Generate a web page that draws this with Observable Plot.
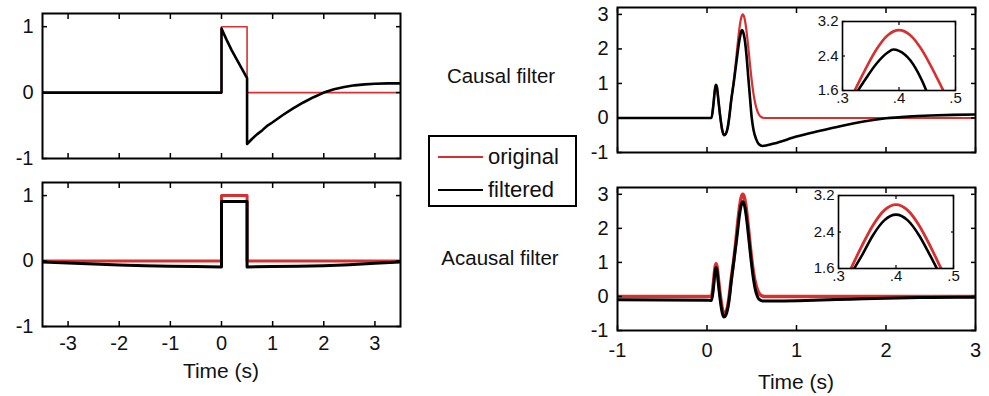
<!DOCTYPE html>
<html><head><meta charset="utf-8">
<script src="https://cdn.jsdelivr.net/npm/d3@7"></script>
<script src="https://cdn.jsdelivr.net/npm/@observablehq/plot@0.6"></script>
<style>
html,body{margin:0;padding:0;background:#fff;overflow:hidden;}
#fig{position:relative;width:989px;height:396px;overflow:hidden;font-family:"Liberation Sans",Arial,sans-serif;color:#111;}
#fig svg{position:absolute;left:0;top:0;}
.lbl{position:absolute;white-space:nowrap;transform:translate(-50%,-50%);line-height:1;}
#legend{position:absolute;left:428px;top:135px;width:149px;height:72px;box-sizing:border-box;border:2px solid #000;background:#fff;}
#legend .sw{position:absolute;left:8px;width:45px;}
#legend .tx{position:absolute;left:58px;font-size:22px;line-height:1;transform:translateY(-50%);}
</style></head><body><div id="fig"></div>
<script>
// ---------- data ----------
// Left panels: square pulse
const stepT        = [-3.5, 0, 0, 0.5, 0.5, 3.5];
const stepOriginal = [0, 0, 1, 1, 0, 0];
const causalStepT  = [-3.5, 0, 0, 0.1, 0.2, 0.3, 0.4, 0.5, 0.5, 0.6, 0.7, 0.8, 0.9, 1.0, 1.2, 1.4, 1.6, 1.8, 2.0, 2.2, 2.4, 2.6, 2.8, 3.0, 3.25, 3.5];
const causalStepV  = [0, 0, 0.97, 0.8, 0.64, 0.5, 0.36, 0.22, -0.78, -0.7, -0.63, -0.57, -0.5, -0.45, -0.34, -0.24, -0.15, -0.07, 0.0, 0.05, 0.085, 0.11, 0.125, 0.135, 0.14, 0.14];
const acausalStepT = [-3.5, -3, -2.5, -2, -1.5, -1, -0.5, 0, 0, 0.5, 0.5, 1, 1.5, 2, 2.5, 3, 3.5];
const acausalStepV = [-0.015, -0.03, -0.045, -0.06, -0.07, -0.08, -0.085, -0.09, 0.91, 0.91, -0.09, -0.085, -0.08, -0.07, -0.055, -0.035, -0.015];
// Right panels: transient waveform
const waveT        = [-1, 0.05, 0.07, 0.09, 0.10, 0.11, 0.13, 0.15, 0.17, 0.19, 0.21, 0.23, 0.25, 0.27, 0.30, 0.32, 0.34, 0.36, 0.38, 0.40, 0.42, 0.44, 0.46, 0.48, 0.50, 0.52, 0.54, 0.56, 0.58, 0.60, 0.64, 3.0];
const waveOriginal = [0, 0, 0.35, 0.85, 0.96, 0.9, 0.45, 0.0, -0.35, -0.5, -0.46, -0.3, 0.05, 0.5, 1.08, 1.56, 2.08, 2.55, 2.88, 3.0, 2.88, 2.55, 2.08, 1.56, 1.08, 0.69, 0.41, 0.22, 0.1, 0.04, 0, 0];
const causalT      = [-1, 0.05, 0.07, 0.09, 0.10, 0.11, 0.13, 0.15, 0.17, 0.19, 0.21, 0.23, 0.25, 0.27, 0.30, 0.32, 0.34, 0.36, 0.38, 0.39, 0.40, 0.42, 0.44, 0.46, 0.48, 0.50, 0.52, 0.55, 0.58, 0.62, 0.75, 1.0, 1.25, 1.5, 1.75, 2.0, 2.25, 2.5, 2.75, 3.0];
const causalV      = [0, 0, 0.35, 0.85, 0.96, 0.9, 0.45, 0.0, -0.35, -0.5, -0.46, -0.3, 0.05, 0.5, 1.05, 1.45, 1.85, 2.22, 2.48, 2.55, 2.52, 2.3, 1.85, 1.22, 0.6, 0.0, -0.35, -0.62, -0.76, -0.81, -0.74, -0.54, -0.38, -0.23, -0.1, -0.01, 0.04, 0.07, 0.09, 0.1];
const acausalT     = [-1, 0.0, 0.05, 0.07, 0.09, 0.10, 0.11, 0.13, 0.15, 0.17, 0.19, 0.21, 0.23, 0.25, 0.27, 0.30, 0.32, 0.34, 0.36, 0.38, 0.40, 0.42, 0.44, 0.46, 0.48, 0.50, 0.52, 0.54, 0.56, 0.58, 0.62, 0.8, 1.2, 1.6, 2.0, 2.5, 3.0];
const acausalV     = [-0.1, -0.11, -0.12, 0.2, 0.72, 0.85, 0.78, 0.3, -0.15, -0.48, -0.6, -0.55, -0.38, -0.05, 0.42, 1.05, 1.45, 1.87, 2.33, 2.66, 2.78, 2.66, 2.33, 1.87, 1.38, 0.9, 0.5, 0.2, 0.02, -0.08, -0.13, -0.13, -0.11, -0.08, -0.05, -0.03, -0.02];
// ticks
const leftXTicks  = [-3, -2, -1, 0, 1, 2, 3];
const leftYTicks  = [-1, 0, 1];
const rightXTicks = [-1, 0, 1, 2, 3];
const rightYTicks = [-1, 0, 1, 2, 3];
const insetXTicks = [0.3, 0.4, 0.5];
const insetYTicks = [1.6, 2.4, 3.2];
// texts
const seriesNames = ["original", "filtered"];
const rowTitles = ["Causal filter", "Acausal filter"];
const xTitle = "Time (s)";

// ---------- drawing ----------
const RED = "#d7302f", BLACK = "#000";
const zip = (T, V) => T.map((t, i) => ({t, v: V[i]}));
const fig = document.getElementById("fig");
const W = 989, H = 396;

function panel(o) {
  const marks = [];
  if (o.inset) marks.push(Plot.frame({fill: "white"}));
  for (const s of o.series) marks.push(Plot.line(s.data, {x: "t", y: "v", stroke: s.color, strokeWidth: s.width, curve: o.curve, clip: true, strokeLinejoin: "round"}));
  marks.push(Plot.frame({stroke: "black", strokeWidth: o.frameWidth}));
  const tk = {tickSize: -o.tick, fill: "none", label: null, strokeWidth: o.tickWidth, stroke: "black"};
  marks.push(
    Plot.axisX(o.xTicks, {...tk, anchor: "bottom"}),
    Plot.axisX(o.xTicks, {...tk, anchor: "top"}),
    Plot.axisY(o.yTicks, {...tk, anchor: "left"}),
    Plot.axisY(o.yTicks, {...tk, anchor: "right"})
  );
  if (o.showX) marks.push(Plot.axisX(o.xTicks, {anchor: "bottom", tickSize: 0, tickPadding: o.xPad, label: null, tickFormat: o.fmtX, fontSize: o.fontSize, fill: "#111"}));
  marks.push(Plot.axisY(o.yTicks, {anchor: "left", tickSize: 0, tickPadding: o.yPad, label: null, tickFormat: o.fmtY, fontSize: o.fontSize, fill: "#111"}));
  const svg = Plot.plot({
    width: W, height: H,
    marginLeft: o.left, marginRight: W - o.right, marginTop: o.top, marginBottom: H - o.bottom,
    x: {domain: o.xDomain, label: null},
    y: {domain: o.yDomain, label: null},
    style: {background: "transparent", fontFamily: "'Liberation Sans', Arial, sans-serif", fontSize: o.fontSize + "px", overflow: "visible"},
    marks
  });
  fig.appendChild(svg);
}

const fmtInt = d => String(d);
const fmtDot = d => String(d).replace(/^0\./, ".");
const fmt1 = d => d.toFixed(1);
const mainOpts = {frameWidth: 2, tick: 5, tickWidth: 1.5, fontSize: 20, fmtX: fmtInt, fmtY: fmtInt, curve: "linear"};

// Left top (causal, pulse)
panel({...mainOpts, left: 42, right: 400, top: 13, bottom: 158, xDomain: [-3.5, 3.5], yDomain: [-1, 1.2],
  xTicks: leftXTicks, yTicks: leftYTicks, showX: false, yPad: 9,
  series: [{data: zip(stepT, stepOriginal), color: RED, width: 1.6}, {data: zip(causalStepT, causalStepV), color: BLACK, width: 2.6}]});
// Left bottom (acausal, pulse)
panel({...mainOpts, left: 42, right: 400, top: 182, bottom: 326, xDomain: [-3.5, 3.5], yDomain: [-1, 1.2],
  xTicks: leftXTicks, yTicks: leftYTicks, showX: true, xPad: 9, yPad: 9,
  series: [{data: zip(stepT, stepOriginal), color: RED, width: 3}, {data: zip(acausalStepT, acausalStepV), color: BLACK, width: 3}]});
// Right top (causal, waveform)
panel({...mainOpts, curve: "monotone-x", left: 617, right: 975, top: 7, bottom: 152, xDomain: [-1, 3], yDomain: [-1, 3.2],
  xTicks: rightXTicks, yTicks: rightYTicks, showX: false, yPad: 9,
  series: [{data: zip(waveT, waveOriginal), color: RED, width: 2.2}, {data: zip(causalT, causalV), color: BLACK, width: 2.6}]});
// Right bottom (acausal, waveform)
panel({...mainOpts, curve: "monotone-x", left: 617, right: 975, top: 187, bottom: 330, xDomain: [-1, 3], yDomain: [-1, 3.2],
  xTicks: rightXTicks, yTicks: rightYTicks, showX: true, xPad: 12, yPad: 9,
  series: [{data: zip(waveT, waveOriginal), color: RED, width: 3.5}, {data: zip(acausalT, acausalV), color: BLACK, width: 3}]});

const insetOpts = {inset: true, curve: "monotone-x", frameWidth: 1.6, tick: 3, tickWidth: 1.2, fontSize: 15, fmtX: fmtDot, fmtY: fmt1,
  xDomain: [0.3, 0.5], yDomain: [1.6, 3.2], xTicks: insetXTicks, yTicks: insetYTicks, showX: true, xPad: 2, yPad: 4};
panel({...insetOpts, left: 842, right: 955, top: 21, bottom: 90,
  series: [{data: zip(waveT, waveOriginal), color: RED, width: 2.6}, {data: zip(causalT, causalV), color: BLACK, width: 2.6}]});
panel({...insetOpts, left: 838, right: 953, top: 195, bottom: 268,
  series: [{data: zip(waveT, waveOriginal), color: RED, width: 2.8}, {data: zip(acausalT, acausalV), color: BLACK, width: 2.6}]});

// texts
function label(text, x, y, size) {
  const d = document.createElement("div");
  d.className = "lbl"; d.textContent = text;
  d.style.left = x + "px"; d.style.top = y + "px"; d.style.fontSize = size + "px";
  fig.appendChild(d);
}
label(xTitle, 221, 370, 21);
label(xTitle, 796, 381, 21);
label(rowTitles[0], 501, 76, 20.5);
label(rowTitles[1], 500, 258, 20.5);

// legend
const lg = document.createElement("div");
lg.id = "legend";
[[seriesNames[0], RED, 2, 20], [seriesNames[1], BLACK, 2.6, 53]].forEach(([name, col, w, y]) => {
  const sw = document.createElement("div");
  sw.className = "sw"; sw.style.top = (y - w / 2) + "px"; sw.style.height = w + "px"; sw.style.background = col;
  const tx = document.createElement("div");
  tx.className = "tx"; tx.style.top = y + "px"; tx.textContent = name;
  lg.appendChild(sw); lg.appendChild(tx);
});
fig.appendChild(lg);
</script>
</body></html>
